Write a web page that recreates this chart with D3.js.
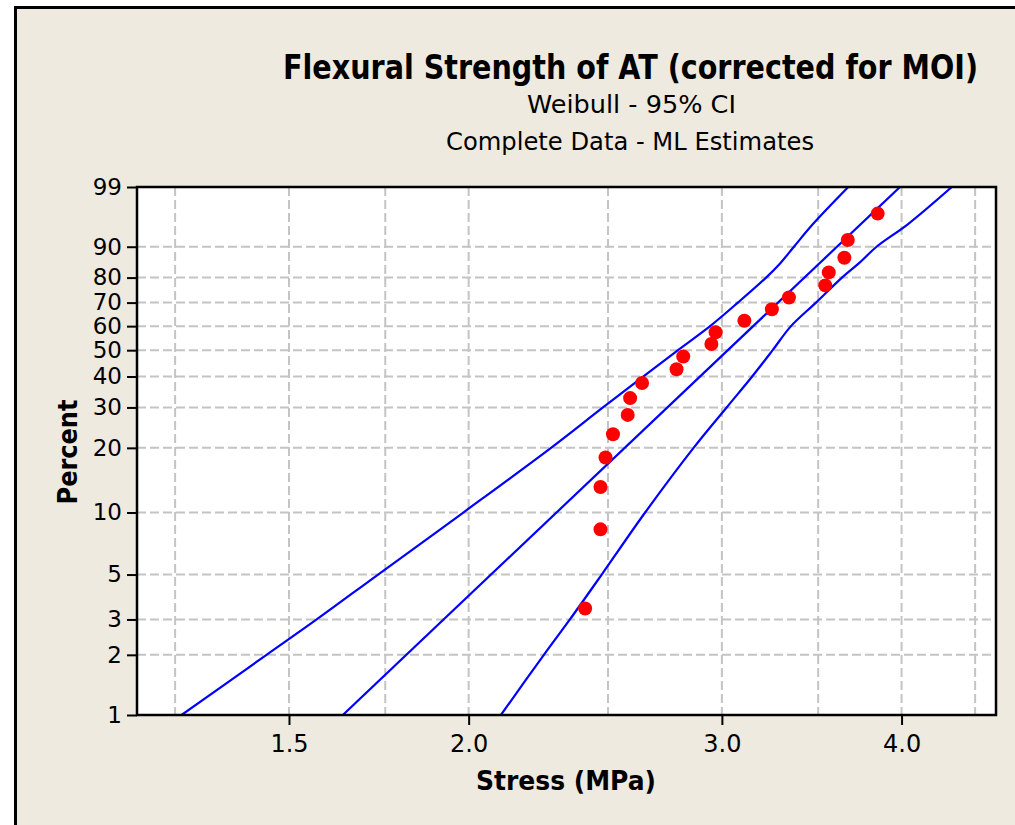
<!DOCTYPE html>
<html lang="en">
 <head>
  <meta charset="UTF-8">
  <title>Flexural Strength of AT (corrected for MOI)</title>
  <script src="https://cdn.jsdelivr.net/npm/d3@7/dist/d3.min.js"></script>
  <style>
    body { margin: 0; background: #ffffff; }
    text { font-family: "DejaVu Sans", Verdana, sans-serif; fill: #000; }
  </style>
 </head>
 <body>
  <script>
    // ordered strength values (MPa) and their plotted percent positions
    var stress  = [2.41, 2.47, 2.47, 2.49, 2.52, 2.58, 2.59, 2.64, 2.79, 2.82,
                   2.95, 2.97, 3.11, 3.25, 3.34, 3.54, 3.56, 3.65, 3.67, 3.85];
    var percent = [3.4, 8.3, 13.2, 18.1, 23.0, 27.9, 32.8, 37.7, 42.6, 47.5,
                   52.5, 57.4, 62.3, 67.2, 72.1, 77.0, 81.9, 86.8, 91.7, 96.6];

    // fitted Weibull line, read at its ends
    var fitPct    = [1, 99];
    var fitStress = [1.635, 3.99];

    // 95% confidence bands
    var ciPct       = [1, 2, 3, 5, 10, 20, 30, 40, 50, 60, 70, 80, 85, 90, 95, 99];
    var ciLowStress = [1.263, 1.447, 1.568, 1.730, 1.983, 2.282, 2.480, 2.646, 2.796, 2.944, 3.078, 3.220, 3.293, 3.367, 3.471, 3.673];
    var ciUpStress  = [2.106, 2.256, 2.352, 2.475, 2.653, 2.867, 3.023, 3.149, 3.254, 3.351, 3.488, 3.636, 3.735, 3.843, 4.042, 4.335];

    var yTicks     = [1, 2, 3, 5, 10, 20, 30, 40, 50, 60, 70, 80, 90, 99];
    var xTicks     = [1.5, 2.0, 3.0, 4.0];
    var xGridLines = [1.25, 1.5, 1.75, 2.0, 2.5, 3.0, 3.5, 4.0, 4.5];

    var W = 1015, H = 825;
    var pLeft = 137, pRight = 996, pTop = 187, pBottom = 715;

    // weibull probability transform
    var wb = function(p) { return Math.log(-Math.log(1 - p / 100)); };

    var svg = d3.select("body").append("svg")
                .attr("width", W).attr("height", H);

    svg.append("rect").attr("x", 0).attr("y", 0).attr("width", W).attr("height", H)
       .attr("fill", "#ffffff");
    svg.append("rect").attr("x", 15.5).attr("y", 7.5).attr("width", W + 20).attr("height", H + 20)
       .attr("fill", "#EEEAE0").attr("stroke", "#000").attr("stroke-width", 3);

    var x = d3.scaleLog().domain([1.176, 4.653]).range([pLeft, pRight]);
    var y = d3.scaleLinear().domain([wb(1), wb(99)]).range([pBottom, pTop]);

    svg.append("rect").attr("x", pLeft).attr("y", pTop)
       .attr("width", pRight - pLeft).attr("height", pBottom - pTop)
       .attr("fill", "#ffffff");

    svg.append("clipPath").attr("id", "plotClip")
       .append("rect").attr("x", pLeft).attr("y", pTop)
       .attr("width", pRight - pLeft).attr("height", pBottom - pTop);

    // grid
    var grid = svg.append("g")
                  .attr("stroke", "#C4C4C4").attr("stroke-width", 2)
                  .attr("stroke-dasharray", "9,4");
    grid.selectAll("line.v").data(xGridLines).enter().append("line")
        .attr("x1", d => x(d)).attr("x2", d => x(d))
        .attr("y1", pTop).attr("y2", pBottom);
    grid.selectAll("line.h").data(yTicks.slice(1, -1)).enter().append("line")
        .attr("x1", pLeft).attr("x2", pRight)
        .attr("y1", d => y(wb(d))).attr("y2", d => y(wb(d)));

    var plot = svg.append("g").attr("clip-path", "url(#plotClip)");

    var line = d3.line()
                 .x(d => x(d[0]))
                 .y(d => y(wb(d[1])))
                 .curve(d3.curveCatmullRom);

    plot.append("path")
        .datum(ciLowStress.map((s, i) => [s, ciPct[i]]))
        .attr("d", line).attr("fill", "none").attr("stroke", "#0000FF").attr("stroke-width", 2.2);
    plot.append("path")
        .datum(ciUpStress.map((s, i) => [s, ciPct[i]]))
        .attr("d", line).attr("fill", "none").attr("stroke", "#0000FF").attr("stroke-width", 2.2);
    plot.append("path")
        .datum(fitStress.map((s, i) => [s, fitPct[i]]))
        .attr("d", d3.line().x(d => x(d[0])).y(d => y(wb(d[1]))))
        .attr("fill", "none").attr("stroke", "#0000FF").attr("stroke-width", 2.2);

    plot.selectAll("circle").data(stress).enter().append("circle")
        .attr("cx", d => x(d))
        .attr("cy", (d, i) => y(wb(percent[i])))
        .attr("r", 7)
        .attr("fill", "#FF0000");

    // axes
    var yAxis = d3.axisLeft(y)
                  .tickValues(yTicks.map(wb))
                  .tickFormat((d, i) => yTicks[i])
                  .tickSize(10).tickPadding(5);
    var gy = svg.append("g").attr("transform", "translate(" + pLeft + ",0)").call(yAxis);
    gy.select(".domain").remove();
    gy.selectAll("line").attr("stroke", "#000").attr("stroke-width", 2);
    gy.selectAll("text").style("font-size", "23px").style("font-family", "DejaVu Sans");

    var xAxis = d3.axisBottom(x)
                  .tickValues(xTicks)
                  .tickFormat(d3.format(".1f"))
                  .tickSize(10).tickPadding(10);
    var gx = svg.append("g").attr("transform", "translate(0," + pBottom + ")").call(xAxis);
    gx.select(".domain").remove();
    gx.selectAll("line").attr("stroke", "#000").attr("stroke-width", 2);
    gx.selectAll("text").style("font-size", "24px").style("font-family", "DejaVu Sans");

    svg.append("rect").attr("x", pLeft).attr("y", pTop)
       .attr("width", pRight - pLeft).attr("height", pBottom - pTop)
       .attr("fill", "none").attr("stroke", "#000").attr("stroke-width", 2.5);

    // titles
    svg.append("text").attr("x", 630.5).attr("y", 79)
       .attr("text-anchor", "middle").attr("font-weight", "bold").attr("font-size", 33)
       .attr("textLength", 695).attr("lengthAdjust", "spacingAndGlyphs")
       .text("Flexural Strength of AT (corrected for MOI)");
    svg.append("text").attr("x", 631.5).attr("y", 113)
       .attr("text-anchor", "middle").attr("font-size", 24)
       .attr("textLength", 209).attr("lengthAdjust", "spacingAndGlyphs")
       .text("Weibull - 95% CI");
    svg.append("text").attr("x", 630).attr("y", 150)
       .attr("text-anchor", "middle").attr("font-size", 24)
       .attr("textLength", 368).attr("lengthAdjust", "spacingAndGlyphs")
       .text("Complete Data - ML Estimates");

    svg.append("text").attr("x", 566).attr("y", 790)
       .attr("text-anchor", "middle").attr("font-weight", "bold").attr("font-size", 26)
       .attr("textLength", 180).attr("lengthAdjust", "spacingAndGlyphs")
       .text("Stress (MPa)");
    svg.append("text")
       .attr("transform", "translate(77,452) rotate(-90)")
       .attr("text-anchor", "middle").attr("font-weight", "bold").attr("font-size", 26)
       .attr("textLength", 105).attr("lengthAdjust", "spacingAndGlyphs")
       .text("Percent");
  </script>
 </body>
</html>
